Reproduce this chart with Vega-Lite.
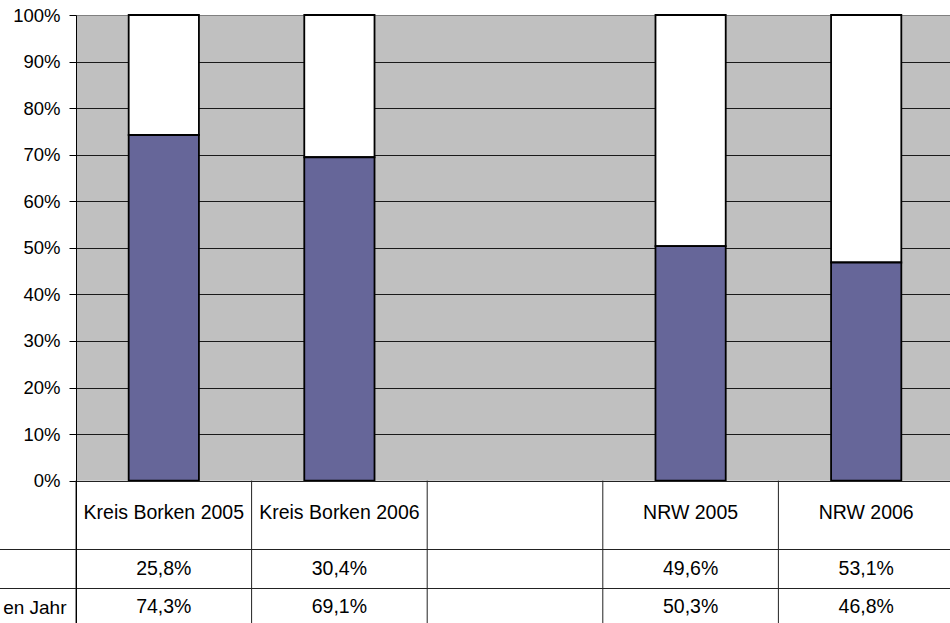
{
  "$schema": "https://vega.github.io/schema/vega-lite/v6.json",
  "width": 878,
  "height": 610,
  "autosize": {"type": "none"},
  "padding": {"left": 76, "top": 15, "right": 0, "bottom": 0},
  "background": "white",
  "config": {
    "view": {"stroke": null, "fill": "#C0C0C0"},
    "font": "Liberation Sans",
    "locale": {"number": {"decimal": ",", "thousands": ".", "grouping": [3], "currency": ["", " €"]}}
  },
  "datasets": {
    "bars": [
      {"cat": "Kreis Borken 2005", "series": "a", "value": 0.258},
      {"cat": "Kreis Borken 2005", "series": "b", "value": 0.743},
      {"cat": "Kreis Borken 2006", "series": "a", "value": 0.304},
      {"cat": "Kreis Borken 2006", "series": "b", "value": 0.691},
      {"cat": "NRW 2005", "series": "a", "value": 0.496},
      {"cat": "NRW 2005", "series": "b", "value": 0.503},
      {"cat": "NRW 2006", "series": "a", "value": 0.531},
      {"cat": "NRW 2006", "series": "b", "value": 0.468}
    ],
    "cats": [
      {"cat": "Kreis Borken 2005"},
      {"cat": "Kreis Borken 2006"},
      {"cat": " "},
      {"cat": "NRW 2005"},
      {"cat": "NRW 2006"}
    ]
  },
  "resolve": {"axis": {"y": "independent"}},
  "layer": [
    {
      "data": {"values": [{}]},
      "mark": {"type": "rect", "color": "#FFFFFF"},
      "encoding": {
        "y": {"datum": 0, "type": "quantitative", "axis": null, "scale": {"domain": [-0.31, 1], "nice": false, "zero": false}},
        "y2": {"datum": -0.31}
      }
    },
    {
      "data": {"name": "bars"},
      "mark": {"type": "bar", "stroke": "black", "strokeWidth": 1.8},
      "encoding": {
        "x": {"field": "cat", "type": "nominal", "axis": null,
              "scale": {"domain": ["Kreis Borken 2005", "Kreis Borken 2006", " ", "NRW 2005", "NRW 2006"], "paddingInner": 0.6, "paddingOuter": 0.3}},
        "y": {"field": "value", "type": "quantitative", "stack": "normalize",
              "scale": {"domain": [-0.31, 1], "nice": false, "zero": false},
              "axis": {"orient": "left", "values": [0, 0.1, 0.2, 0.3, 0.4, 0.5, 0.6, 0.7, 0.8, 0.9, 1], "format": ".0%", "title": null,
                       "labelFont": "Liberation Sans", "labelFontSize": 18.5, "labelColor": "black", "labelPadding": 9,
                       "tickSize": 7, "tickColor": "black", "domain": false,
                       "grid": true, "gridColor": {"condition": {"test": "datum.value >= 1", "value": "#808080"}, "value": "#1a1a1a"}, "gridWidth": 1, "gridOpacity": 1, "zindex": 0}},
        "color": {"field": "series", "type": "nominal", "legend": null,
                  "scale": {"domain": ["a", "b"], "range": ["#FFFFFF", "#666699"]}},
        "order": {"field": "series", "sort": "descending"}
      }
    },
    {
      "data": {"name": "cats"},
      "mark": {"type": "rule", "color": "#222222", "strokeWidth": 1},
      "encoding": {
        "x": {"field": "cat", "type": "nominal", "bandPosition": -0.75, "axis": null},
        "y": {"datum": 0, "type": "quantitative", "axis": null},
        "y2": {"datum": -0.31}
      }
    },
    {
      "data": {"name": "cats"},
      "mark": {"type": "text", "fontSize": 19.5, "color": "black", "baseline": "middle", "align": "center"},
      "encoding": {
        "x": {"field": "cat", "type": "nominal", "axis": null},
        "y": {"datum": -0.0696, "type": "quantitative",
              "axis": {"orient": "left", "values": [-0.2715, -0.2307, -0.1469, 0], "title": null,
                       "labelExpr": "datum.value < -0.25 ? 'en Jahr' : ''",
                       "labelFont": "Liberation Sans", "labelFontSize": 19, "labelColor": "black",
                       "tickSize": 80, "labelPadding": -70,
                       "tickColor": {"condition": {"test": "datum.value < -0.25 || datum.value >= 0", "value": "transparent"}, "value": "#222222"},
                       "domainColor": "black", "domainWidth": 1,
                       "grid": true, "gridColor": {"condition": {"test": "datum.value < -0.25", "value": "transparent"}, "value": "#222222"},
                       "gridWidth": 1, "gridOpacity": 1, "zindex": 1}},
        "text": {"field": "cat"}
      }
    },
    {
      "data": {"name": "bars"},
      "transform": [{"filter": "datum.series == 'a'"}],
      "mark": {"type": "text", "fontSize": 19.5, "color": "black", "baseline": "middle", "align": "center"},
      "encoding": {
        "x": {"field": "cat", "type": "nominal", "axis": null},
        "y": {"datum": -0.19, "type": "quantitative", "axis": null},
        "text": {"field": "value", "type": "quantitative", "format": ".1%"}
      }
    },
    {
      "data": {"name": "bars"},
      "transform": [{"filter": "datum.series == 'b'"}],
      "mark": {"type": "text", "fontSize": 19.5, "color": "black", "baseline": "middle", "align": "center"},
      "encoding": {
        "x": {"field": "cat", "type": "nominal", "axis": null},
        "y": {"datum": -0.2715, "type": "quantitative", "axis": null},
        "text": {"field": "value", "type": "quantitative", "format": ".1%"}
      }
    }
  ]
}
